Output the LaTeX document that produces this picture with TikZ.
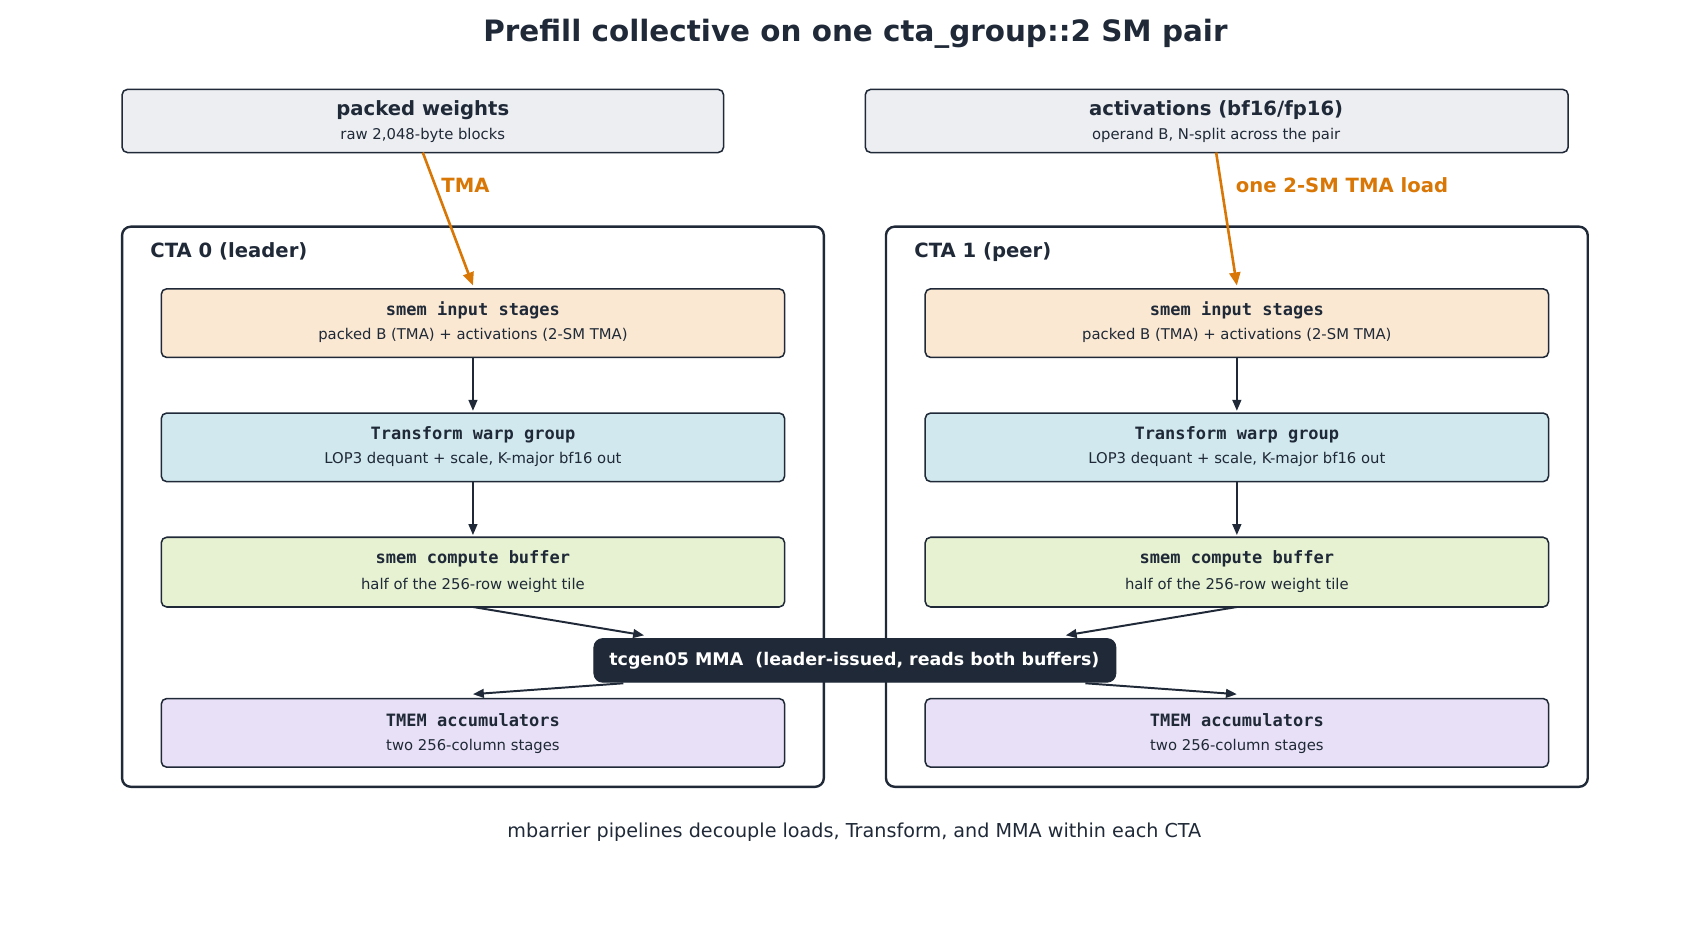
\documentclass[tikz,border=0pt]{standalone}
\usepackage{fontspec}
\setmainfont{DejaVu Sans}
\setmonofont{DejaVu Sans Mono}
\usetikzlibrary{arrows.meta}
\definecolor{ink}{HTML}{1F2937}
\definecolor{org}{HTML}{D97706}
\definecolor{cgray}{HTML}{ECEEF2}
\definecolor{cpeach}{HTML}{FAE8D2}
\definecolor{cblue}{HTML}{D0E8EE}
\definecolor{cgreen}{HTML}{E6F2D2}
\definecolor{clav}{HTML}{E8E0F6}
\begin{document}
\begin{tikzpicture}[x=0.5pt,y=-0.5pt,
 box/.style={draw=ink,line width=0.7pt,rounded corners=2.5pt},
 frame/.style={draw=ink,line width=1.1pt,rounded corners=4pt},
 ttl/.style={font=\fontsize{9}{10}\selectfont\bfseries,text=ink},
 mtl/.style={font=\ttfamily\fontsize{7.8}{9}\selectfont\bfseries,text=ink},
 sub/.style={font=\fontsize{6.8}{8}\selectfont,text=ink},
 arr/.style={-{Triangle[length=5pt,width=4pt]},line width=0.9pt,draw=ink},
 oarr/.style={-{Triangle[length=6pt,width=5pt]},line width=1.2pt,draw=org},
 olab/.style={font=\fontsize{9}{10}\selectfont\bfseries,text=org,anchor=west}]
\useasboundingbox (0,0) rectangle (1560,863);
\node[font=\fontsize{13.5}{15}\selectfont\bfseries,text=ink] (title) at (785,31) {Prefill collective on one cta\_group::2 SM pair};
% top boxes
\draw[box,fill=cgray] (112,82) rectangle (664,140);
\node[ttl] (pw) at (388,101) {packed weights};
\node[sub] (pws) at (388,124) {raw 2,048-byte blocks};
\draw[box,fill=cgray] (794,82) rectangle (1439,140);
\node[ttl] (ac) at (1116,101) {activations (bf16/fp16)};
\node[sub] (acs) at (1116,124) {operand B, N-split across the pair};
\coordinate (pwb) at (388,140); \coordinate (acb) at (1116,140);
% frames
\draw[frame] (112,208) rectangle (756,722);
\draw[frame] (813,208) rectangle (1457,722);
\node[font=\fontsize{9}{10}\selectfont\bfseries,text=ink,anchor=west] (c0) at (131,231) {CTA 0 (leader)};
\node[font=\fontsize{9}{10}\selectfont\bfseries,text=ink,anchor=west] (c1) at (832,231) {CTA 1 (peer)};
% inner boxes
\foreach \s/\xl/\xr/\xc in {L/148/720/434, R/849/1421/1135}{
 \draw[box,fill=cpeach] (\xl,265) rectangle (\xr,328);
 \node[mtl] (in\s) at (\xc,285) {smem input stages};
 \node[sub] at (\xc,308) {packed B (TMA) + activations (2-SM TMA)};
 \coordinate (inT\s) at (\xc,262); \coordinate (inB\s) at (\xc,328);
 \draw[box,fill=cblue] (\xl,379) rectangle (\xr,442);
 \node[mtl] at (\xc,399) {Transform warp group};
 \node[sub] at (\xc,422) {LOP3 dequant + scale, K-major bf16 out};
 \coordinate (trT\s) at (\xc,377); \coordinate (trB\s) at (\xc,442);
 \draw[box,fill=cgreen] (\xl,493) rectangle (\xr,557);
 \node[mtl] at (\xc,513) {smem compute buffer};
 \node[sub] at (\xc,537) {half of the 256-row weight tile};
 \coordinate (cbT\s) at (\xc,491); \coordinate (cbB\s) at (\xc,557);
 \draw[box,fill=clav] (\xl,641) rectangle (\xr,704);
 \node[mtl] at (\xc,661) {TMEM accumulators};
 \node[sub] at (\xc,685) {two 256-column stages};
 \coordinate (tmT\s) at (\xc,637);
 \draw[arr] (inB\s) -- (trT\s);
 \draw[arr] (trB\s) -- (cbT\s);
}
% MMA
\draw[fill=ink,draw=ink,rounded corners=4pt] (545,586) rectangle (1024,626);
\node[font=\fontsize{8}{9}\selectfont\bfseries,text=white] (mma) at (784,606) {tcgen05 MMA\ \ (leader-issued, reads both buffers)};
\coordinate (mL) at (591,583); \coordinate (mR) at (978,583);
\coordinate (mbL) at (572,627); \coordinate (mbR) at (996,627);
\draw[arr] (cbBL) -- (mL);
\draw[arr] (cbBR) -- (mR);
\draw[arr] (mbL) -- (tmTL);
\draw[arr] (mbR) -- (tmTR);
% orange
\draw[oarr] (pwb) -- (inTL);
\draw[oarr] (acb) -- (inTR);
\node[olab] (l1) at (398,170) {TMA};
\node[olab] (l2) at (1127,170) {one 2-SM TMA load};
\node[font=\fontsize{8.8}{10}\selectfont,text=ink] (foot) at (784,764) {mbarrier pipelines decouple loads, Transform, and MMA within each CTA};
\end{tikzpicture}
\end{document}
